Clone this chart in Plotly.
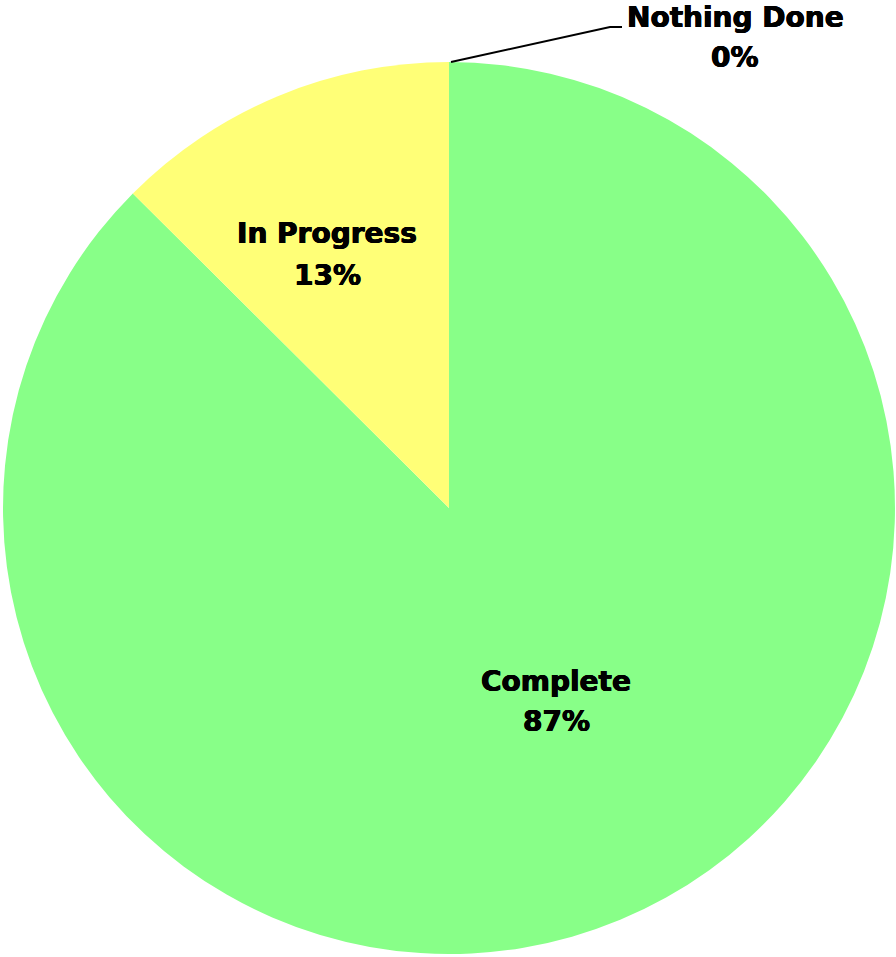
import plotly.graph_objects as go

# Data
categories = ["Complete", "In Progress", "Nothing Done"]
values = [87.46, 12.54, 0.0]
colors = ["#88FF88", "#FFFF77", "#FFFFFF"]

W, H = 896, 957
total = sum(values)
pct = [f"{round(v / total * 100):.0f}%" for v in values]

fig = go.Figure(go.Pie(
    labels=categories,
    values=values,
    sort=False,
    direction="clockwise",
    rotation=0,
    marker=dict(colors=colors, line=dict(width=0)),
    textinfo="none",
    hoverinfo="label+percent",
    showlegend=False,
    domain=dict(x=[3 / W, 895 / W], y=[3 / H, 895 / H]),
))

# label positions in pixels (x, y of name line, y of percent line)
label_pos = [(556, 681, 721), (327, 234, 276), (735, 18, 58)]

font = dict(family="DejaVu Sans", size=28, color="black", weight="bold",
            shadow="0.5px 0 0 black, -0.5px 0 0 black, 0 0.4px 0 black")
annotations = []
for cat, p, (x, y1, y2) in zip(categories, pct, label_pos):
    annotations.append(dict(x=x / W, y=1 - y1 / H, xref="paper", yref="paper",
                            text=cat, showarrow=False, font=font,
                            xanchor="center", yanchor="middle"))
    annotations.append(dict(x=x / W, y=1 - y2 / H, xref="paper", yref="paper",
                            text=p, showarrow=False, font=font,
                            xanchor="center", yanchor="middle"))

# leader line for the zero slice
pts = [(451, 62), (610, 27), (622, 27)]
path = "M " + " L ".join(f"{x / W},{1 - y / H}" for x, y in pts)
fig.update_layout(
    width=W, height=H,
    margin=dict(l=0, r=0, t=0, b=0),
    paper_bgcolor="white",
    plot_bgcolor="white",
    annotations=annotations,
    shapes=[dict(type="path", path=path, xref="paper", yref="paper",
                 line=dict(color="black", width=2))],
)

fig.write_html("out.html",
               config={"displayModeBar": False},
               post_script="document.body.style.margin='0';document.body.style.padding='0';")
